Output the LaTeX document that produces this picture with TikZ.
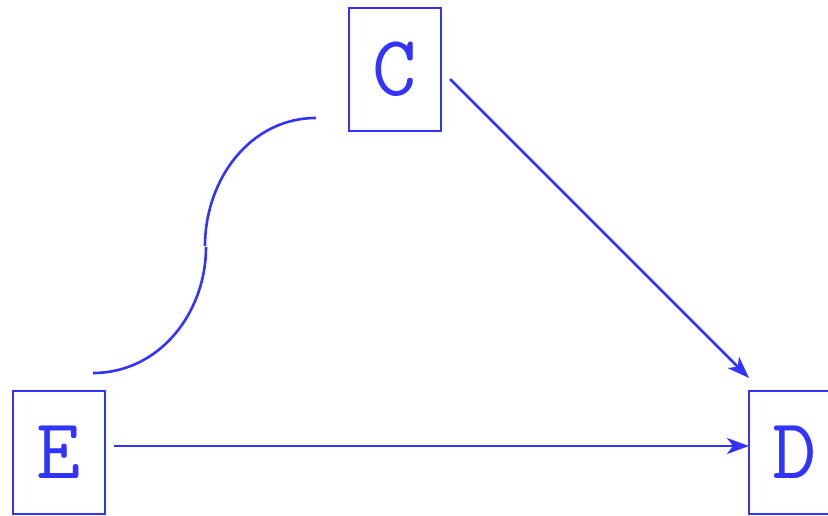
\documentclass[tikz,border=0pt]{standalone}
\usetikzlibrary{arrows.meta}
\definecolor{ink}{HTML}{3333FF}
\begin{document}
\begin{tikzpicture}[x=1pt,y=1pt,
  box/.style={draw=ink,line width=2pt,minimum width=92pt,minimum height=123pt,inner sep=0pt,
    text=ink,font=\fontsize{86}{86}\selectfont\ttfamily},
  conn/.style={draw=ink,line width=2.6pt},
  arr/.style={conn,-{Stealth[length=22pt,width=16pt,inset=6pt]}}]
\useasboundingbox (0,0) rectangle (828,515);
\node[box] (C) at (395,445.5) {C};
\node[box] (E) at (59,62.5) {E};
\node[box] (D) at (795,62.5) {D};
\coordinate (c1) at ([shift={(-32,-48.5)}]C.west);
\coordinate (m1) at (205,269);
\coordinate (m2) at (206,268);
\coordinate (e1) at ([shift={(34,17)}]E.north);
\draw[conn] (c1) to[out=180,in=90] (m1);
\draw[conn] (m2) to[out=-90,in=0] (e1);
\draw[arr] ([shift={(8,-9.5)}]C.east) -- ([shift={(1,12)}]D.north west);
\draw[arr] ([shift={(8,6.5)}]E.east) -- ([shift={(1,6.5)}]D.west);
\end{tikzpicture}
\end{document}
